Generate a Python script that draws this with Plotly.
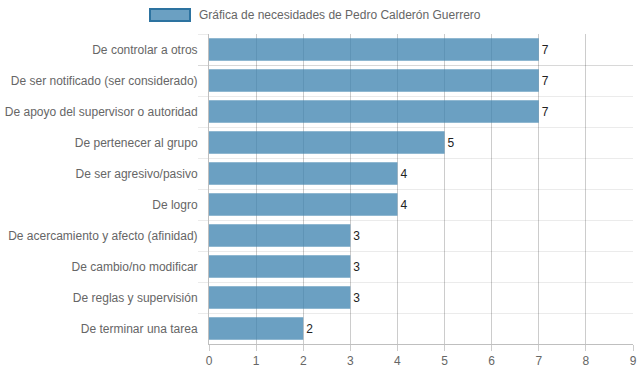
import plotly.graph_objects as go

categories = [
    "De controlar a otros",
    "De ser notificado (ser considerado)",
    "De apoyo del supervisor o autoridad",
    "De pertenecer al grupo",
    "De ser agresivo/pasivo",
    "De logro",
    "De acercamiento y afecto (afinidad)",
    "De cambio/no modificar",
    "De reglas y supervisión",
    "De terminar una tarea",
]
values = [7, 7, 7, 5, 4, 4, 3, 3, 3, 2]
x_ticks = [0, 1, 2, 3, 4, 5, 6, 7, 8, 9]
series_name = "Gráfica de necesidades de Pedro Calderón Guerrero"

font = "Liberation Sans, Arial, sans-serif"
fsize = 12

fig = go.Figure()
fig.add_trace(go.Bar(
    y=categories,
    x=values,
    orientation="h",
    marker=dict(color="rgba(60,130,175,0.76)", line=dict(width=0)),
    text=[str(v) for v in values],
    textposition="outside",
    cliponaxis=False,
    textfont=dict(family=font, size=12, color="#222"),
    name=series_name,
    showlegend=False,
))

fig.update_layout(
    width=639, height=372,
    margin=dict(l=209, r=6, t=34, b=28, autoexpand=False),
    plot_bgcolor="white", paper_bgcolor="white",
    bargap=0.28,
    font=dict(family=font, size=fsize, color="#666"),
    xaxis=dict(
        range=[0, 9], tickvals=x_ticks, showgrid=True,
        gridcolor="rgba(0,0,0,0.2)", gridwidth=1,
        showline=True, linecolor="rgba(0,0,0,0.25)", linewidth=1,
        ticks="outside", ticklen=6, tickcolor="rgba(0,0,0,0.2)",
        tickfont=dict(family=font, size=fsize, color="#666"),
        zeroline=False, fixedrange=True, automargin=False,
    ),
    yaxis=dict(
        type="category", autorange="reversed",
        tickson="boundaries", showgrid=True,
        gridcolor="rgba(0,0,0,0.08)", gridwidth=1,
        showline=True, linecolor="rgba(0,0,0,0.25)", linewidth=1,
        ticks="outside", ticklen=10, tickcolor="rgba(0,0,0,0.08)",
        ticklabelstandoff=8,
        tickfont=dict(family=font, size=fsize, color="#666"),
        fixedrange=True, automargin=False,
    ),
    shapes=[dict(
        type="rect", xref="paper", yref="paper",
        x0=(150 - 209) / 424, x1=(190 - 209) / 424,
        y0=(372 - 28 - 21) / 310, y1=(372 - 28 - 9) / 310,
        fillcolor="rgba(60,130,175,0.76)",
        line=dict(color="rgb(45,115,160)", width=2),
    )],
    annotations=[dict(
        text=series_name, xref="paper", yref="paper",
        x=(197 - 209) / 424, y=(372 - 28 - 15) / 310,
        xanchor="left", yanchor="middle", showarrow=False,
        font=dict(family=font, size=fsize, color="#666"),
    )],
)

fig.write_html("out.html", config={"displayModeBar": False},
               post_script="document.body.style.margin='0';")
